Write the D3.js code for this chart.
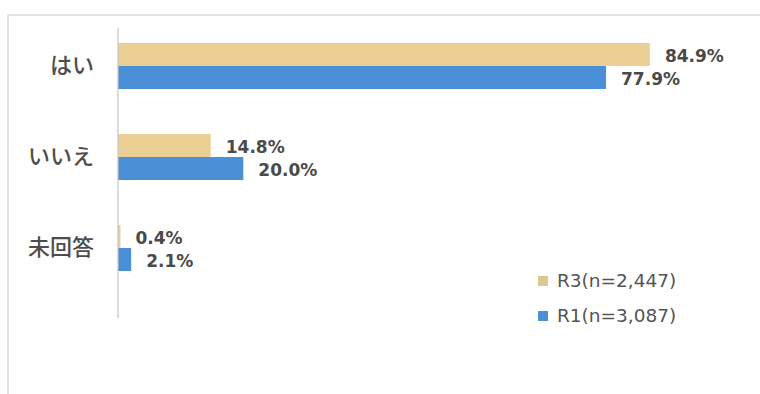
<!DOCTYPE html>
<html><head><meta charset="utf-8">
<script src="https://cdn.jsdelivr.net/npm/d3@7/dist/d3.min.js"></script>
<style>html,body{margin:0;padding:0;background:#fff;}svg{display:block;}</style>
</head><body>
<script>
const categories = ["はい", "いいえ", "未回答"];
const seriesNames = ["R3(n=2,447)", "R1(n=3,087)"];
const r3Values = [84.9, 14.8, 0.4];
const r1Values = [77.9, 20.0, 2.1];
const seriesColors = ["#ebcf95", "#4b8fd6"];
const legendColors = ["#ddc98f", "#4b8fd6"];

const W = 760, H = 394;
const svg = d3.select("body").append("svg").attr("width", W).attr("height", H);

// frame
svg.append("path").attr("d", "M8,394 V15 H760").attr("fill", "none")
  .attr("stroke", "#e2e2e4").attr("stroke-width", 2);

const x = d3.scaleLinear().domain([0, 100]).range([118, 744.5]);
const y = d3.scaleBand().domain(categories).range([20.5, 293.5]).padding(0);
const ys = d3.scaleBand().domain(seriesNames).range([0, y.bandwidth()]).paddingInner(0).paddingOuter(0.978);

const series = [r3Values, r1Values];
const data = [];
categories.forEach((c, i) => series.forEach((vals, s) => data.push({c, s, v: vals[i], name: seriesNames[s]})));

// bars
svg.append("g").selectAll("rect").data(data).join("rect")
  .attr("x", x(0))
  .attr("y", d => y(d.c) + ys(d.name))
  .attr("width", d => x(d.v) - x(0))
  .attr("height", ys.bandwidth())
  .attr("fill", d => seriesColors[d.s]);

// axis line
svg.append("line").attr("x1", x(0)).attr("x2", x(0)).attr("y1", 28).attr("y2", 318)
  .attr("stroke", "#c4c4c4").attr("stroke-width", 1.2);

// category labels
svg.append("g").selectAll("text").data(categories).join("text")
  .attr("x", 94)
  .attr("y", d => y(d) + y.bandwidth() / 2 + 1)
  .attr("text-anchor", "end")
  .attr("dominant-baseline", "middle")
  .attr("font-family", "'Noto Sans CJK JP', sans-serif")
  .attr("font-size", 22)
  .attr("font-weight", 500)
  .attr("fill", "#4d4d4d")
  .text(d => d);

// value labels
svg.append("g").selectAll("text").data(data).join("text")
  .attr("x", d => x(d.v) + 15)
  .attr("y", d => y(d.c) + ys(d.name) + ys.bandwidth() / 2 + 2.5)
  .attr("dominant-baseline", "middle")
  .attr("font-family", "'DejaVu Sans', sans-serif")
  .attr("font-size", 17)
  .attr("font-weight", "bold")
  .attr("fill", "#4a4a4a")
  .text(d => d.v.toFixed(1) + "%");

// legend
const lg = svg.append("g");
seriesNames.forEach((n, i) => {
  const cy = 281 + i * 35;
  lg.append("rect").attr("x", 538).attr("y", cy - 5).attr("width", 10).attr("height", 10).attr("fill", legendColors[i]);
  lg.append("text").attr("x", 557).attr("y", cy + 1).attr("dominant-baseline", "middle")
    .attr("font-family", "'DejaVu Sans', sans-serif").attr("font-size", 18.5)
    .attr("fill", "#555").text(n);
});
</script>
</body></html>
